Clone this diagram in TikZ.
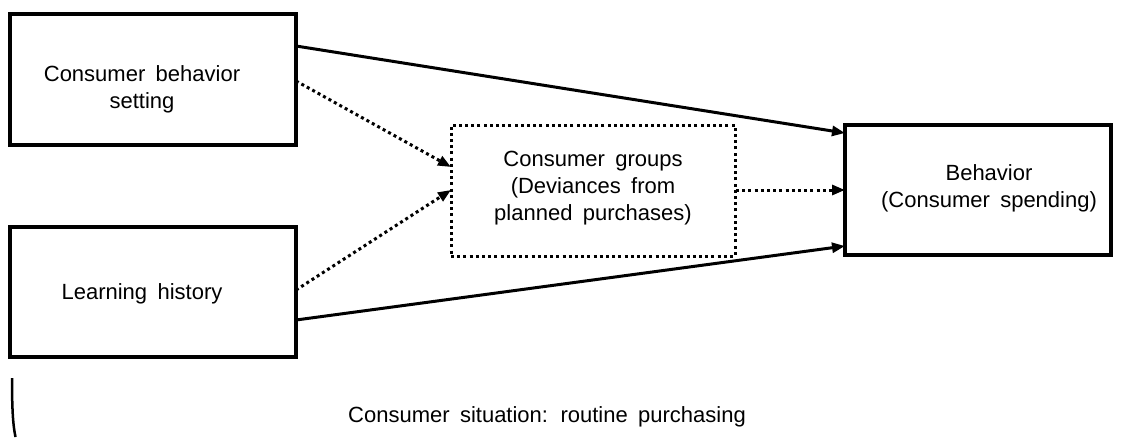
\documentclass[tikz,border=0pt]{standalone}
\usepackage{fontspec}
\setmainfont{Liberation Sans}[WordSpace=1.7]
\usetikzlibrary{arrows.meta}
\begin{document}
\begin{tikzpicture}[x=1pt,y=-1pt,
  boxline/.style={draw,line width=3.3pt,inner sep=0pt},
  dotline/.style={line width=3pt,dash pattern=on 3pt off 3.2pt},
  txt/.style={align=center,font=\fontsize{22}{27}\selectfont,inner sep=0pt,anchor=base},
  solidarrow/.style={line width=3pt,-{Triangle[length=13pt,width=10pt]}},
  dotarrow/.style={dotline,-{Triangle[length=13pt,width=10pt]}}]
\useasboundingbox (0,0) rectangle (1122,437);
% boxes
\node[boxline,minimum width=286pt,minimum height=131pt] (set) at (153,79.5) {};
\node[boxline,minimum width=286pt,minimum height=130pt] (hist) at (153,292) {};
\node[boxline,dotline,minimum width=284pt,minimum height=131pt] (grp) at (593,190.5) {};
\node[boxline,minimum width=266pt,minimum height=130pt] (beh) at (978,190) {};
% texts (base anchor = baseline of last line)
\node[txt] (settxt) at (142,108) {Consumer behavior\\setting};
\node[txt] (histtxt) at (142,299) {Learning history};
\node[txt] (grptxt) at (593,220) {Consumer groups\\(Deviances from\\planned purchases)};
\node[txt] (behtxt) at (989,207) {Behavior\\(Consumer spending)};
\node[txt] (sit) at (547,422) {Consumer situation: routine purchasing};
% connectors
\coordinate (s1) at (296,46);
\coordinate (s2) at (296,81);
\coordinate (h1) at (296,290);
\coordinate (h2) at (296,320);
\coordinate (g1) at (451,167);
\coordinate (g2) at (451,190);
\coordinate (g3) at (736,190);
\coordinate (b1) at (845,133);
\coordinate (b2) at (845,190);
\coordinate (b3) at (845,246);
\draw[solidarrow] (s1) -- (b1);
\draw[solidarrow] (h2) -- (b3);
\draw[dotarrow] (s2) -- (g1);
\draw[dotarrow] (h1) -- (g2);
\draw[dotarrow] (g3) -- (b2);
% bracket
\coordinate (br1) at (12,378);
\coordinate (br2) at (15.5,437);
\draw[line width=2.5pt] (br1) .. controls (12,410) and (13,425) .. (br2);
\end{tikzpicture}
\end{document}
